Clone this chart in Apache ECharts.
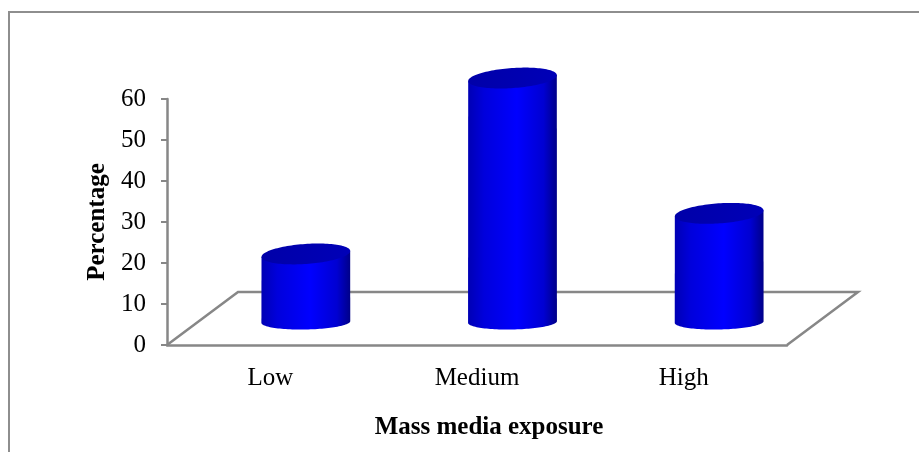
<!DOCTYPE html>
<html>
<head>
<meta charset="utf-8">
<script src="https://cdn.jsdelivr.net/npm/echarts@6/dist/echarts.min.js"></script>
<style>
  html, body { margin: 0; padding: 0; background: #ffffff; }
  #chart { width: 919px; height: 452px; }
</style>
</head>
<body>
<div id="chart"></div>
<script>
// Mass media exposure levels and the share of respondents in each
const categories = ['Low', 'Medium', 'High'];
const percentages = [16.6, 59.5, 26.5];
const axisMin = 0;
const axisMax = 60;
const axisStep = 10;

const FONT = '"Liberation Serif", "Times New Roman", serif';
const GRID = { left: 167, top: 99, width: 620, height: 246 };
// oblique depth of the floor (pixels to the right / upwards)
const DEPTH = { dx: 71, dy: -53 };
// where the cylinders stand inside that depth
const STAND = { dx: 35.5, dy: -23 };
const AXIS_GREY = '#878787';

const chart = echarts.init(document.getElementById('chart'), null, { renderer: 'canvas' });

// point on a tilted ellipse
function ellipsePt(cx, cy, rx, ry, rot, t) {
  const c = Math.cos(t), s = Math.sin(t);
  return [
    cx + rx * c * Math.cos(rot) - ry * s * Math.sin(rot),
    cy + rx * c * Math.sin(rot) + ry * s * Math.cos(rot)
  ];
}

function renderCylinder(params, api) {
  const base = api.coord([api.value(0), 0]);
  const top = api.coord([api.value(0), api.value(1)]);
  const band = api.size([1, 0])[0];
  const rx = band * 0.215;
  const cx = base[0] + STAND.dx;
  const cyB = base[1] + STAND.dy;
  const cyT = top[1] + STAND.dy;
  const rotTop = -0.07, rotBot = -0.02;
  const ryTop = 10, ryBot = 7.5;
  const N = 60;

  const body = [];
  for (let i = 0; i <= N; i++) {
    body.push(ellipsePt(cx, cyB, rx, ryBot, rotBot, Math.PI * i / N));
  }
  body.push(ellipsePt(cx, cyT, rx, ryTop, rotTop, Math.PI));
  body.push(ellipsePt(cx, cyT, rx, ryTop, rotTop, 0));

  const cap = [];
  for (let i = 0; i < N * 2; i++) {
    cap.push(ellipsePt(cx, cyT, rx, ryTop, rotTop, Math.PI * i / N));
  }

  return {
    type: 'group',
    children: [
      {
        type: 'polygon',
        shape: { points: body },
        style: {
          fill: new echarts.graphic.LinearGradient(0, 0, 1, 0, [
            { offset: 0, color: '#0000B4' },
            { offset: 0.18, color: '#0000DC' },
            { offset: 0.55, color: '#0000FF' },
            { offset: 0.85, color: '#0000D2' },
            { offset: 1, color: '#000088' }
          ])
        }
      },
      {
        type: 'polygon',
        shape: { points: cap },
        style: {
          fill: new echarts.graphic.LinearGradient(0, 0, 1, 1, [
            { offset: 0, color: '#0000A8' },
            { offset: 1, color: '#0000B8' }
          ])
        }
      }
    ]
  };
}

const g0 = GRID.left, gb = GRID.top + GRID.height, gr = GRID.left + GRID.width;

chart.setOption({
  animation: false,
  backgroundColor: '#ffffff',
  grid: { left: GRID.left, top: GRID.top, width: GRID.width, height: GRID.height },
  graphic: [
    {
      type: 'rect', z: 0,
      shape: { x: 9, y: 12, width: 940, height: 470 },
      style: { fill: null, stroke: '#8e8e8e', lineWidth: 2 }
    },
    {
      type: 'polyline', z: 0,
      shape: { points: [[g0, gb], [g0 + DEPTH.dx, gb + DEPTH.dy], [gr + DEPTH.dx, gb + DEPTH.dy], [gr, gb]] },
      style: { fill: null, stroke: AXIS_GREY, lineWidth: 2.5 }
    }
  ],
  xAxis: {
    type: 'category',
    data: categories,
    boundaryGap: true,
    name: 'Mass media exposure',
    nameLocation: 'middle',
    nameGap: 70,
    nameTextStyle: { fontFamily: FONT, fontWeight: 'bold', fontSize: 25, color: '#000', padding: [0, 0, 0, 24] },
    axisLine: { show: true, lineStyle: { color: AXIS_GREY, width: 2.5 } },
    axisTick: { show: false },
    axisLabel: { fontFamily: FONT, fontSize: 25, color: '#000', margin: 21 },
    splitLine: { show: false }
  },
  yAxis: {
    type: 'value',
    min: axisMin,
    max: axisMax,
    interval: axisStep,
    name: 'Percentage',
    nameLocation: 'middle',
    nameGap: 53,
    nameRotate: 90,
    nameTextStyle: { fontFamily: FONT, fontWeight: 'bold', fontSize: 25, color: '#000' },
    axisLine: { show: true, lineStyle: { color: AXIS_GREY, width: 2.5 } },
    axisTick: { show: true, length: 6, inside: false, lineStyle: { color: AXIS_GREY, width: 2 } },
    axisLabel: { fontFamily: FONT, fontSize: 25, color: '#000', margin: 21 },
    splitLine: { show: false }
  },
  series: [
    {
      type: 'custom',
      name: 'Percentage',
      renderItem: renderCylinder,
      encode: { x: 0, y: 1 },
      data: categories.map((c, i) => [i, percentages[i]]),
      z: 3
    }
  ]
});
</script>
</body>
</html>
